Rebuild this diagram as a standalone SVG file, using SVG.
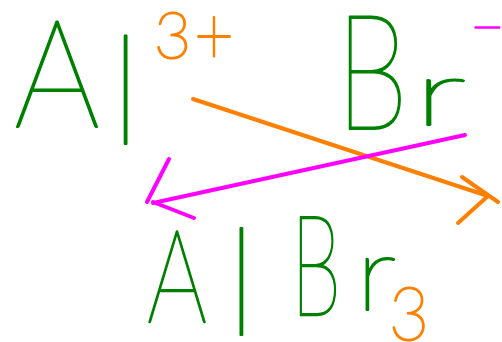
<svg xmlns="http://www.w3.org/2000/svg" width="502" height="342" viewBox="0 0 502 342">
<style>
.t{font-family:Lato,"Liberation Sans",sans-serif;font-weight:100;stroke-linejoin:round}
.g{fill:#008000;stroke:#008000;stroke-width:2}
.o{fill:#ff8000;stroke:#ff8000;stroke-width:2}
.m{fill:#ff00ff;stroke:#ff00ff;stroke-width:2}
.ln{fill:none;stroke-width:4;stroke-linecap:round;stroke-linejoin:round}
</style>
<rect width="502" height="342" fill="#ffffff"/>
<g id="al-ion">
<text class="t g"><tspan font-size="150" x="14" y="127" textLength="86" lengthAdjust="spacingAndGlyphs">A</tspan><tspan font-size="150" x="110" y="144">l</tspan><tspan class="o" font-size="64" x="154" y="58">3</tspan><tspan class="o" font-size="82" x="194" y="64" textLength="40" lengthAdjust="spacingAndGlyphs">+</tspan></text>
</g>
<g id="br-ion">
<text class="t g"><tspan font-size="160" x="336" y="129" textLength="72" lengthAdjust="spacingAndGlyphs">B</tspan><tspan font-size="93" x="414" y="125" textLength="52" lengthAdjust="spacingAndGlyphs">r</tspan><tspan class="m" font-size="60" x="470" y="48">−</tspan></text>
</g>
<g id="product">
<text class="t g"><tspan font-size="130" x="147" y="322" textLength="60" lengthAdjust="spacingAndGlyphs">A</tspan><tspan font-size="148" x="226" y="335">l</tspan><tspan font-size="140" x="291" y="315" textLength="50" lengthAdjust="spacingAndGlyphs">B</tspan><tspan font-size="104" x="356" y="310" textLength="40" lengthAdjust="spacingAndGlyphs">r</tspan><tspan class="o" font-size="75" x="389" y="340" textLength="40" lengthAdjust="spacingAndGlyphs">3</tspan></text>
</g>
<g id="connectors">
<path class="ln" stroke="#ff8000" d="M193,99 L488,196 M462,177 L498,202 M488,196 L458,223"/>
<path class="ln" stroke="#ff00ff" d="M465,135 L153,203 M169,159 L147,202 M153,202 L194,218"/>
</g>
</svg>
